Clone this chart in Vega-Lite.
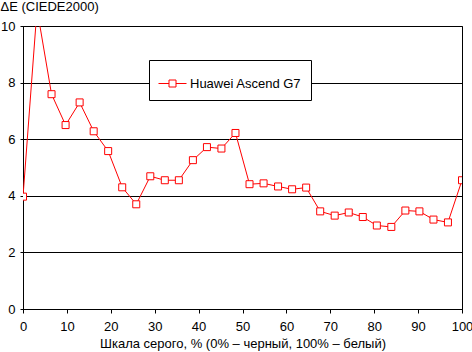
{
  "$schema": "https://vega.github.io/schema/vega-lite/v6.json",
  "width": 439,
  "height": 283,
  "autosize": {"type": "none"},
  "padding": {"left": 23, "top": 26, "right": 10, "bottom": 43},
  "background": "white",
  "config": {
    "font": "Liberation Sans",
    "view": {"stroke": "black", "strokeWidth": 1},
    "axis": {
      "labelFont": "Liberation Sans",
      "labelFontSize": 13,
      "labelColor": "black",
      "titleFont": "Liberation Sans",
      "titleFontSize": 13,
      "titleFontWeight": "normal",
      "titleColor": "black",
      "domainColor": "black",
      "tickColor": "black",
      "gridColor": "black",
      "gridOpacity": 1,
      "gridWidth": 1
    }
  },
  "data": {
    "values": [
      {"x": 0, "y": 3.97, "s": "Huawei Ascend G7"},
      {"x": 3.2, "y": 10.6, "s": "Huawei Ascend G7"},
      {"x": 6.5, "y": 7.59, "s": "Huawei Ascend G7"},
      {"x": 9.7, "y": 6.5, "s": "Huawei Ascend G7"},
      {"x": 12.9, "y": 7.3, "s": "Huawei Ascend G7"},
      {"x": 16.1, "y": 6.28, "s": "Huawei Ascend G7"},
      {"x": 19.4, "y": 5.58, "s": "Huawei Ascend G7"},
      {"x": 22.6, "y": 4.3, "s": "Huawei Ascend G7"},
      {"x": 25.8, "y": 3.7, "s": "Huawei Ascend G7"},
      {"x": 29.0, "y": 4.69, "s": "Huawei Ascend G7"},
      {"x": 32.3, "y": 4.55, "s": "Huawei Ascend G7"},
      {"x": 35.5, "y": 4.55, "s": "Huawei Ascend G7"},
      {"x": 38.7, "y": 5.26, "s": "Huawei Ascend G7"},
      {"x": 41.9, "y": 5.72, "s": "Huawei Ascend G7"},
      {"x": 45.2, "y": 5.67, "s": "Huawei Ascend G7"},
      {"x": 48.4, "y": 6.22, "s": "Huawei Ascend G7"},
      {"x": 51.6, "y": 4.41, "s": "Huawei Ascend G7"},
      {"x": 54.8, "y": 4.44, "s": "Huawei Ascend G7"},
      {"x": 58.1, "y": 4.33, "s": "Huawei Ascend G7"},
      {"x": 61.3, "y": 4.23, "s": "Huawei Ascend G7"},
      {"x": 64.5, "y": 4.29, "s": "Huawei Ascend G7"},
      {"x": 67.7, "y": 3.45, "s": "Huawei Ascend G7"},
      {"x": 71.0, "y": 3.3, "s": "Huawei Ascend G7"},
      {"x": 74.2, "y": 3.41, "s": "Huawei Ascend G7"},
      {"x": 77.4, "y": 3.25, "s": "Huawei Ascend G7"},
      {"x": 80.6, "y": 2.95, "s": "Huawei Ascend G7"},
      {"x": 83.9, "y": 2.9, "s": "Huawei Ascend G7"},
      {"x": 87.1, "y": 3.48, "s": "Huawei Ascend G7"},
      {"x": 90.3, "y": 3.45, "s": "Huawei Ascend G7"},
      {"x": 93.5, "y": 3.16, "s": "Huawei Ascend G7"},
      {"x": 96.8, "y": 3.06, "s": "Huawei Ascend G7"},
      {"x": 100, "y": 4.55, "s": "Huawei Ascend G7"}
    ]
  },
  "encoding": {
    "x": {
      "field": "x",
      "type": "quantitative",
      "scale": {"domain": [0, 100], "nice": false, "zero": false},
      "axis": {
        "values": [0, 10, 20, 30, 40, 50, 60, 70, 80, 90, 100],
        "grid": false,
        "tickSize": 4,
        "labelPadding": 7,
        "labelFlush": false,
        "title": "Шкала серого, % (0% – черный, 100% – белый)",
        "titleY": 38,
        "titleBaseline": "alphabetic"
      }
    },
    "y": {
      "field": "y",
      "type": "quantitative",
      "scale": {"domain": [0, 10], "nice": false},
      "axis": {
        "values": [0, 2, 4, 6, 8, 10],
        "grid": true,
        "tickSize": 3,
        "labelPadding": 5,
        "labelFlush": false,
        "title": "ΔE (CIEDE2000)",
        "titleAngle": 0,
        "titleAlign": "left",
        "titleBaseline": "alphabetic",
        "titleX": -23,
        "titleY": -16
      }
    },
    "stroke": {
      "field": "s",
      "type": "nominal",
      "scale": {"range": ["red"]},
      "legend": {
        "title": null,
        "orient": "none",
        "legendX": 126,
        "legendY": 34,
        "padding": 9,
        "strokeColor": "black",
        "fillColor": "white",
        "symbolType": "M-1,0H-0.25M0.25,0H1M-0.25,-0.25H0.25V0.25H-0.25Z",
        "symbolSize": 784,
        "symbolStrokeColor": "red",
        "symbolFillColor": "white",
        "symbolStrokeWidth": 1,
        "labelFont": "Liberation Sans",
        "labelFontSize": 13,
        "labelColor": "black",
        "labelOffset": 3
      }
    }
  },
  "layer": [
    {"mark": {"type": "line", "strokeWidth": 1, "clip": true}},
    {"mark": {"type": "point", "shape": "square", "size": 49, "filled": false, "fill": "white", "fillOpacity": 1, "strokeWidth": 1, "opacity": 1, "clip": true}}
  ]
}
